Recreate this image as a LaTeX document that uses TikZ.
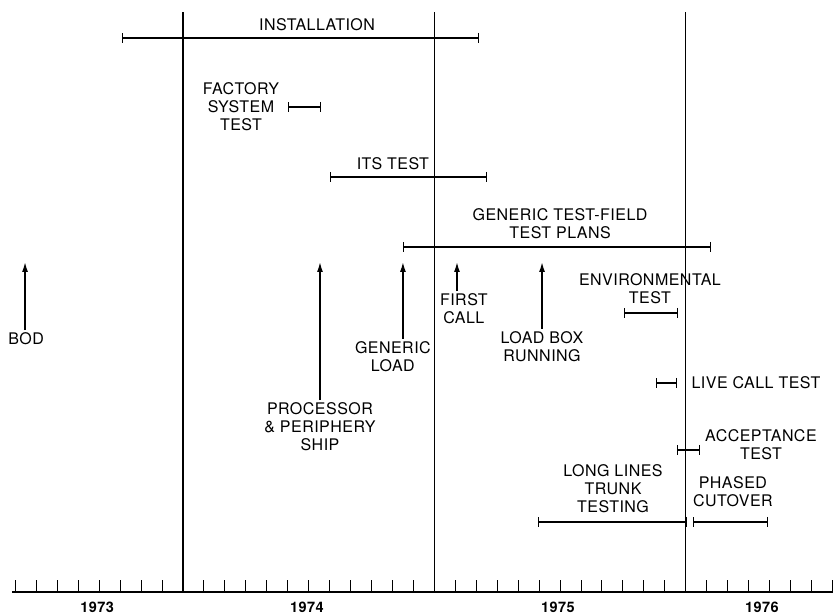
\documentclass[tikz,border=0pt]{standalone}
\usepackage{fontspec}
\setmainfont[LetterSpace=3]{TeX Gyre Heros}
\usetikzlibrary{arrows.meta}
\begin{document}
\begin{tikzpicture}[x=20.95pt, y=1pt, line join=round,
    font=\fontsize{16}{18}\selectfont,
    txt/.style={align=center, inner sep=2.5pt},
    bar/.style={line width=2pt, {Bar[width=10pt,line width=1.2pt]}-{Bar[width=10pt,line width=1.2pt]}},
    ev/.style={line width=1.5pt, -{Latex[length=10pt,width=6pt]}},
    yr/.style={font=\fontsize{14.5}{18}\selectfont\bfseries, inner sep=1pt}]
		\useasboundingbox (-8.735,-24) rectangle (31.03,592);
		
		% Truc thoi gian (1 don vi = 1 thang)
		\foreach \m in {0,12,24} \draw[line width=1.1pt] (\m,0) -- (\m,580);
		\draw[line width=1.3pt] (-8.16,0) -- (31.03,0);
		\foreach \m in {-8,...,31} \draw[line width=1pt] (\m,0) -- (\m,12);
		\node[yr] (y73) at (-4.1,-15.5) {1973};
		\node[yr] (y74) at (5.92,-15.5) {1974};
		\node[yr] (y75) at (17.9,-15.5) {1975};
		\node[yr] (y76) at (27.64,-15.5) {1976};
		
		% Cac giai doan (thanh ngang)
		\node[txt] (install) at (6.40,567) {INSTALLATION};
		\draw[bar] (-2.91,554) -- (14.13,554);
		\node[txt] (factory) at (2.77,485) {FACTORY\\SYSTEM\\TEST};
		\draw[bar] (5.01,485) -- (6.59,485);
		\node[txt] (its) at (10.02,428) {ITS TEST};
		\draw[bar] (7.02,415) -- (14.51,415);
		\node[txt] (plans) at (18.0,368) {GENERIC TEST-FIELD\\TEST PLANS};
		\draw[bar] (10.5,345) -- (25.2,345);
		\node[txt] (envtest) at (22.29,303.5) {ENVIRONMENTAL\\TEST};
		\draw[bar] (21.05,279) -- (23.63,279);
		\draw[bar] (22.58,209) -- (23.58,209);
		\node[txt, anchor=west] (livecall) at (24.15,209) {LIVE CALL TEST};
		\node[txt] (accept) at (27.59,147.5) {ACCEPTANCE\\TEST};
		\draw[bar] (23.58,142) -- (24.68,142);
		\node[txt] (trunk) at (20.53,103) {LONG LINES\\TRUNK\\TESTING};
		\draw[bar] (16.95,70) -- (24.06,70);
		\node[txt] (cutover) at (26.25,100) {PHASED\\CUTOVER};
		\draw[bar] (24.34,70) -- (27.92,70);
		
		% Cac moc (mui ten)
		\coordinate (bodtip) at (-7.54,330);
		\coordinate (shiptip) at (6.54,330);
		\coordinate (loadtip) at (10.5,330);
		\coordinate (calltip) at (13.08,330);
		\coordinate (boxtip) at (17.14,330);
		\node[txt] (bod) at (-7.49,253) {BOD};
		\node[txt] (ship) at (6.54,165) {PROCESSOR\\\& PERIPHERY\\SHIP};
		\node[txt] (genload) at (10.02,235.5) {GENERIC\\LOAD};
		\node[txt] (firstcall) at (13.41,283) {FIRST\\CALL};
		\node[txt] (loadbox) at (17.14,245.5) {LOAD BOX\\RUNNING};
		\draw[ev] (bodtip |- bod.north) -- (bodtip);
		\draw[ev] (shiptip |- ship.north) -- (shiptip);
		\draw[ev] (loadtip |- genload.north) -- (loadtip);
		\draw[ev] (calltip |- firstcall.north) -- (calltip);
		\draw[ev] (boxtip |- loadbox.north) -- (boxtip);
\end{tikzpicture}
\end{document}
